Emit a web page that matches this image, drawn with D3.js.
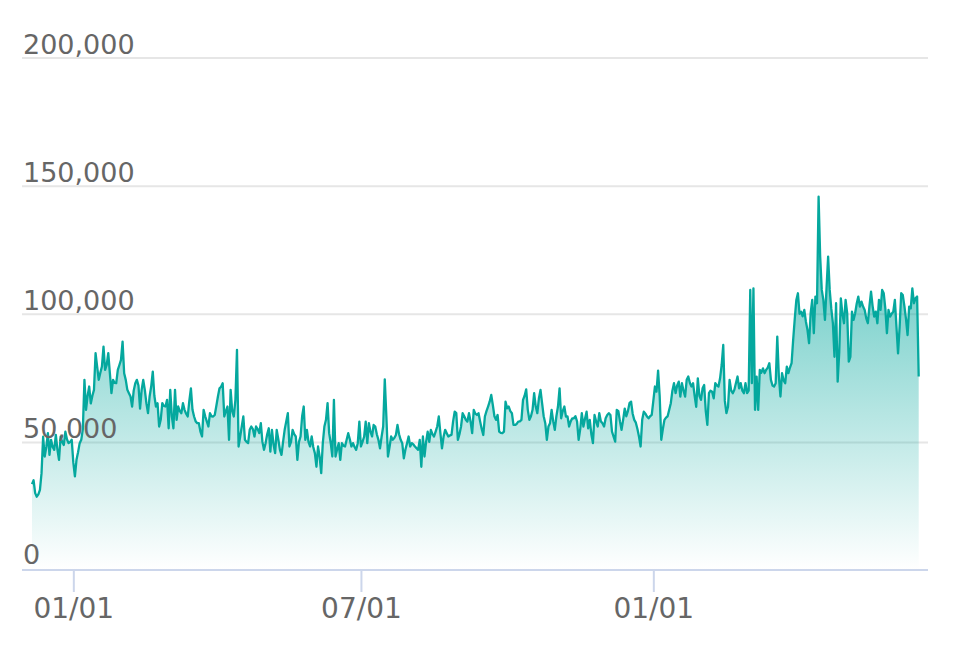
<!DOCTYPE html>
<html>
<head>
  <style>
    body { margin: 0; background: #fff; }
    svg { display: block; font-family: "DejaVu Sans", sans-serif; }
  </style>
</head>
<body>
  <svg width="958" height="648"></svg>
  <script src="https://d3js.org/d3.v7.min.js"></script>
  <script>
    // first day of the series, one value per day after that (in thousands)
    const startDate = "2018-12-06";

    const valsDecFeb = [33.5, 35, 30, 28.6, 29.5, 31.3, 37.8, 52, 44.3, 48,
      53.4, 44.9, 50.8, 48, 46.9, 52.7, 47, 43, 52, 50,
      48.8, 54, 51, 49.5, 50, 50.8, 42, 36.5, 43, 46,
      49.5, 50.8, 55, 74.2, 62.5, 68, 71.6, 65, 68, 70.3,
      84.6, 79.4, 74.2, 77, 79.4, 87.2, 78.1, 80, 84.6, 76.8,
      69, 74.2, 73, 72.9, 78.1, 80, 82, 89.1, 76.8, 74.2,
      70.3, 69, 67.7, 63.8, 70, 72.9, 74.2];

    const valsFebApr = [72, 63, 70.3, 74.2, 70.3, 65, 61.2, 67.7, 71.6, 77.4,
      68, 63.8, 65.1, 56, 58.6, 65.1, 64, 63.8, 66.4, 55.3,
      70.3, 60, 55.3, 70.3, 58.6, 63.8, 62, 61.2, 65.1, 62.5,
      61, 59.9, 66, 70.9, 62.5, 59.9, 58, 57.3, 57.3, 54,
      52.1, 62.5, 60, 58, 56, 61.2, 60, 59.9, 60.5, 64,
      67.7, 70.9, 71.5, 72.9, 59.9, 62, 63.8, 50.8, 70.3, 62,
      59.9, 66.4, 85.9, 48.2, 52, 56, 59.9, 50.8, 50, 49.5,
      54.7];

    const valsAprJun = [56, 55, 52.1, 56, 55, 53.4, 57.3, 50, 46.9, 49.5,
      53, 55.3, 46.2, 54.7, 49, 45.6, 54.7, 51, 47, 44.9,
      50, 54.7, 58, 61.2, 48.2, 50, 54.7, 53, 52.1, 43,
      50, 52.1, 60, 63.8, 50.8, 54.7, 50, 48.2, 52.1, 48,
      45.6, 40.3, 48.2, 44.3, 37.8, 49.5, 56, 58.6, 65.1, 53.4,
      49.5, 44.3, 66.4, 44.3, 47, 49.5, 43, 49.5, 48.5, 48.2,
      50.8, 53.4, 51, 48.2, 49.5, 48, 46.9, 49.5, 57.9];

    const valsJulSep = [48.2, 50, 52, 57.9, 49.5, 57.3, 54, 52.1, 56.6, 56,
      53, 50.8, 47.5, 52, 56, 74.4, 60, 44.3, 48, 52.1,
      50.8, 51.5, 52.7, 56.6, 53, 50.8, 49.5, 43.6, 47, 49.5,
      52.1, 48.2, 49.5, 49, 48.2, 47.5, 46.9, 50.8, 40.3, 52.1,
      44.3, 50, 54, 50, 54.7, 53, 52.1, 54, 56, 59.9,
      53.4, 47.5, 52, 54.7, 53.4, 52.1, 52.5, 52.7, 58, 61.8,
      61.2, 50.8, 53, 56, 61.2, 60, 58.6, 57.9, 61.2];

    const valsSepNov = [57.9, 53.4, 62.5, 61, 60.5, 61.2, 58, 55, 52.7, 59.9,
      62, 63.8, 65.7, 68.3, 64.4, 60, 58.6, 60.5, 54, 53.5,
      53.4, 54, 65.7, 63.1, 63.8, 62, 61.2, 56.6, 56.6, 57,
      57.9, 58, 58.6, 66.4, 68, 70.5, 62.5, 58.6, 60, 62.5,
      69, 63.8, 61.2, 67, 70.3, 65.1, 60, 57.3, 50.8, 56,
      57.3, 62.5, 58, 54.7, 60, 63.8, 70.9, 59.2, 62, 63.8,
      59.9, 59.9, 56, 58, 59.2, 59.2, 60, 58, 50.8];

    const valsNovFeb = [55, 61.2, 56, 59, 61.8, 55.3, 58.6, 53, 49.5, 60.5,
      58, 56, 61.2, 58, 57.3, 56, 59.2, 60.5, 61.2, 60.5,
      54, 52, 50.1, 62.5, 62, 58, 54.7, 58.6, 63, 60,
      62, 65.1, 65.7, 61, 58.6, 57.5, 55, 52, 48.2, 58.6,
      61.8, 61, 59.9, 59.2, 60, 60.5, 66, 71.6, 69.6, 77.8,
      68, 50.8, 55, 58.6, 59.5, 60, 62.5, 65.1, 70, 72.9,
      69, 72, 73.5, 67.7, 72.9, 70, 67.7, 74.2];

    const valsFebApr2 = [75.5, 73, 71.6, 72.9, 68, 63.7, 74.8, 68, 66.4, 70.9,
      72.2, 62, 56.6, 69, 70, 69.6, 67, 72.9, 72, 71.6,
      74.8, 80, 87.8, 66, 61.2, 63.7, 74.2, 70, 69, 70.3,
      73, 75.5, 70.9, 72.9, 70, 69, 72.9, 69, 70, 109.3,
      72.9, 109.9, 62.5, 75.5, 62.5, 78.1, 77, 78.7, 76.8, 78.1,
      79, 80.7, 74.2, 72, 71.6, 72.9, 91.1, 75.5, 67.7, 76.8,
      74, 72.9, 79.4, 76.8, 79, 80.7, 89.8, 98, 105.4, 108];

    const valsAprJun2 = [100, 100.8, 99, 101.5, 97, 93.7, 88.5, 100.2, 105.4, 92.4,
      106.7, 104.1, 145.7, 122.3, 109.3, 105.4, 97.6, 110, 122.3, 109.3,
      102, 96.3, 83.2, 104.1, 73.5, 85, 106, 100, 96.3, 105.4,
      100.2, 81.3, 83.2, 100.8, 97.6, 100.2, 104, 106.7, 102.8, 104.7,
      102.8, 101.5, 98.2, 96.3, 103, 108.6, 103, 98.9, 100.8, 96.3,
      105.4, 101.5, 109.3, 108, 102.1, 92.4, 101.5, 98.9, 100, 100.8,
      105.4, 95, 84.5, 95, 108, 107.3, 103, 98, 91.7, 102.8,
      102.1, 109.9, 104.1, 106, 106.7, 75.5];

    const yTicks = [0, 50000, 100000, 150000, 200000];
    const xTicks = ["2019-01-01", "2019-07-01", "2020-01-01"];

    const parseDate = d3.utcParse("%Y-%m-%d");
    const start = parseDate(startDate);
    const values = [].concat(valsDecFeb, valsFebApr, valsAprJun, valsJulSep,
      valsSepNov, valsNovFeb, valsFebApr2, valsAprJun2);
    const data = values.map((v, i) => ({ date: d3.utcDay.offset(start, i), value: v * 1000 }));

    const width = 958;
    const height = 648;
    const lineColor = "#05a89e";

    const svg = d3.select("svg").attr("viewBox", [0, 0, width, height]);

    const x = d3.scaleUtc()
      .domain(d3.extent(data, d => d.date))
      .range([32, 918.7]);

    const y = d3.scaleLinear()
      .domain([0, 200000])
      .range([570, 57.5]);

    // gradient fill under the line
    const grad = svg.append("defs").append("linearGradient")
      .attr("id", "areaFill")
      .attr("x1", 0).attr("y1", 0).attr("x2", 0).attr("y2", 1);
    grad.append("stop").attr("offset", 0).attr("stop-color", lineColor).attr("stop-opacity", 0.7);
    grad.append("stop").attr("offset", 1).attr("stop-color", lineColor).attr("stop-opacity", 0);

    // grid lines
    svg.append("g")
      .attr("transform", "translate(22,0)")
      .call(d3.axisRight(y).tickValues(yTicks.filter(d => d > 0)).tickSize(906).tickFormat(""))
      .call(g => g.select(".domain").remove())
      .call(g => g.selectAll(".tick line").attr("stroke", "#e6e6e6").attr("stroke-width", 2));

    const area = d3.area()
      .x(d => x(d.date))
      .y0(y(0))
      .y1(d => y(d.value));

    const line = d3.line()
      .x(d => x(d.date))
      .y(d => y(d.value));

    svg.append("path")
      .datum(data)
      .attr("fill", "url(#areaFill)")
      .attr("d", area);

    svg.append("path")
      .datum(data)
      .attr("fill", "none")
      .attr("stroke", lineColor)
      .attr("stroke-width", 2.3)
      .attr("stroke-linejoin", "round")
      .attr("d", line);

    // x axis
    svg.append("line")
      .attr("x1", 22).attr("x2", 928)
      .attr("y1", y(0)).attr("y2", y(0))
      .attr("stroke", "#ccd6eb")
      .attr("stroke-width", 2);

    svg.append("g")
      .attr("transform", `translate(0,${y(0)})`)
      .call(d3.axisBottom(x)
        .tickValues(xTicks.map(parseDate))
        .tickFormat(d3.utcFormat("%m/%d"))
        .tickSize(22)
        .tickPadding(6)
        .tickSizeOuter(0))
      .call(g => g.select(".domain").remove())
      .call(g => g.selectAll(".tick line").attr("stroke", "#ccd6eb").attr("stroke-width", 2))
      .call(g => g.selectAll(".tick text")
        .attr("fill", "#666666")
        .attr("font-size", "28px")
        .attr("font-family", "DejaVu Sans, sans-serif"));

    // y labels sit above their grid lines
    svg.append("g")
      .selectAll("text")
      .data(yTicks)
      .join("text")
      .attr("x", 23)
      .attr("y", d => y(d) - (d === 0 ? 6 : 4))
      .attr("fill", "#666666")
      .attr("font-size", "27px")
      .text(d3.format(","));
  </script>
</body>
</html>
